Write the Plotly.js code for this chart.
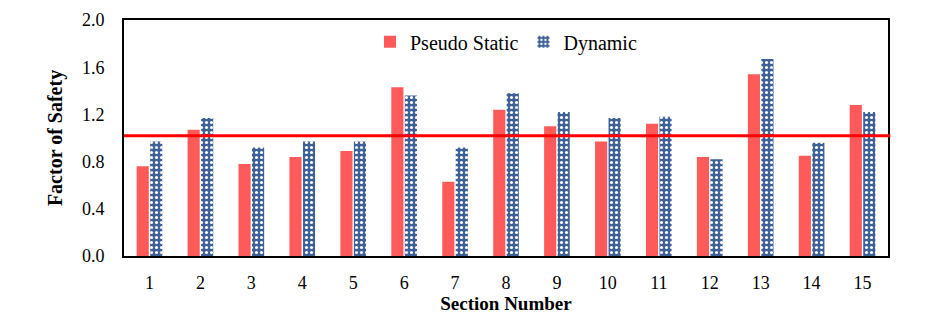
<!DOCTYPE html>
<html>
<head>
<meta charset="utf-8">
<script src="https://cdn.plot.ly/plotly-3.0.1.min.js"></script>
<style>
  body { margin: 0; background: #fff; }
  #chart { width: 938px; height: 334px; }
</style>
</head>
<body>
<div id="chart"></div>
<script>
var sections = ['1', '2', '3', '4', '5', '6', '7', '8', '9', '10', '11', '12', '13', '14', '15'];
var pseudoStatic = [0.76, 1.07, 0.78, 0.84, 0.89, 1.43, 0.63, 1.24, 1.10, 0.97, 1.12, 0.84, 1.54, 0.85, 1.28];
var dynamic = [0.97, 1.17, 0.92, 0.97, 0.97, 1.36, 0.92, 1.38, 1.22, 1.17, 1.18, 0.82, 1.67, 0.96, 1.22];
var limitFS = 1.02;

var serif = 'Liberation Serif';

var data = [{
  x: sections,
  y: pseudoStatic,
  name: 'Pseudo Static',
  type: 'bar',
  marker: { color: '#ff5a5a' }
}, {
  x: sections,
  y: dynamic,
  name: 'Dynamic',
  type: 'bar',
  marker: {
    color: '#3d6099',
    pattern: { shape: '.', bgcolor: '#3d6099', fgcolor: '#ffffff', size: 5, solidity: 0.3 }
  }
}];

var layout = {
  width: 938,
  height: 334,
  margin: { l: 124, r: 50, t: 20, b: 78 },
  paper_bgcolor: '#fff',
  plot_bgcolor: '#fff',
  barmode: 'group',
  bargap: 0.47,
  bargroupgap: 0.1,
  font: { family: serif, size: 18, color: '#000' },
  showlegend: true,
  legend: {
    orientation: 'h',
    x: 0.5, xanchor: 'center',
    y: 0.99, yanchor: 'top',
    font: { family: serif, size: 20, color: '#000' },
    itemwidth: 30
  },
  xaxis: {
    type: 'category',
    title: { text: '<b>Section Number</b>', font: { family: serif, size: 19 }, standoff: 5 },
    showline: true, mirror: true, linecolor: '#000', linewidth: 2,
    showgrid: false, ticks: '', ticklabelstandoff: 9,
    tickfont: { family: serif, size: 18 }
  },
  yaxis: {
    title: { text: '<b>Factor of Safety</b>', font: { family: serif, size: 20 }, standoff: 14 },
    range: [0, 2.0],
    tickvals: [0, 0.4, 0.8, 1.2, 1.6, 2.0],
    tickformat: '.1f',
    showline: true, mirror: true, linecolor: '#000', linewidth: 2,
    showgrid: false, zeroline: false, ticks: '', ticklabelstandoff: 14,
    tickfont: { family: serif, size: 18 }
  },
  shapes: [{
    type: 'line', xref: 'paper', yref: 'y',
    x0: 0, x1: 1.003, y0: limitFS, y1: limitFS,
    line: { color: '#ff0000', width: 3 }
  }]
};

Plotly.newPlot('chart', data, layout, { displayModeBar: false, staticPlot: true });
</script>
</body>
</html>
